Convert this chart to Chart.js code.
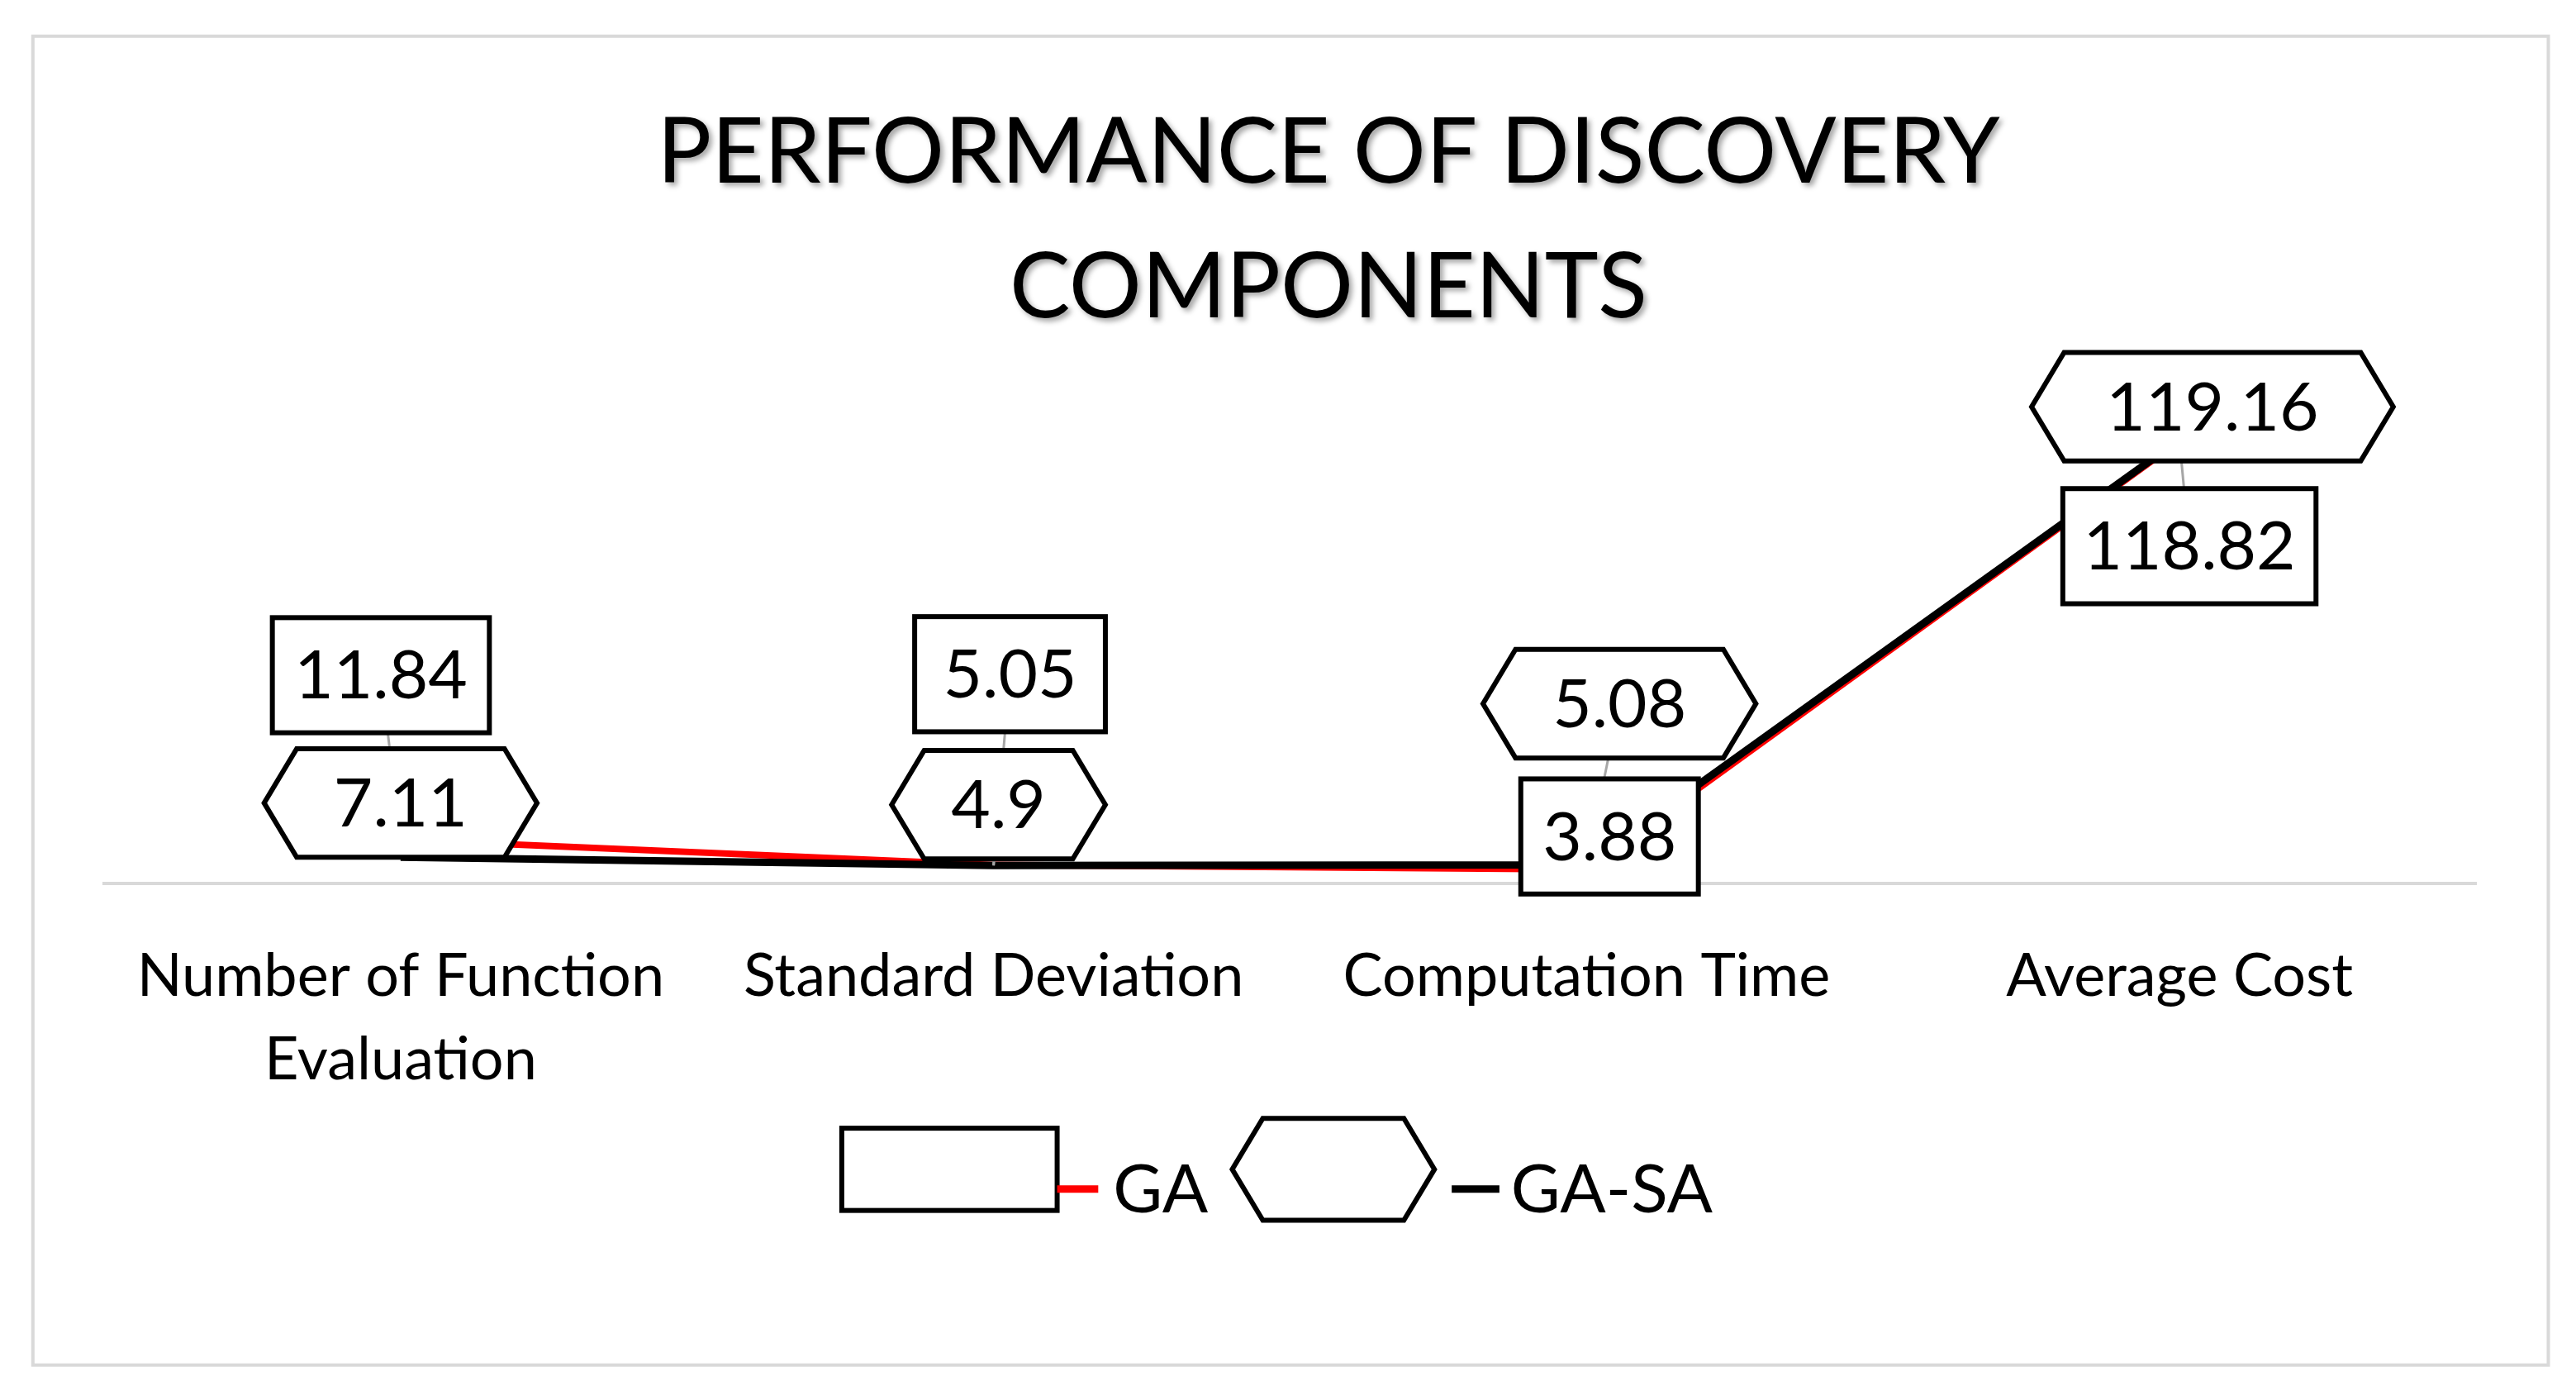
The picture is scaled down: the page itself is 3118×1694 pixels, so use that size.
<!DOCTYPE html>
<html><head><meta charset="utf-8">
<script src="https://cdn.jsdelivr.net/npm/chart.js@4"></script>
<style>html,body{margin:0;padding:0;background:#fff}#c{display:block}</style>
</head><body>
<canvas id="c" width="3118" height="1694"></canvas>
<script>
const categories = [["Number of Function","Evaluation"],"Standard Deviation","Computation Time","Average Cost"];
const gaValues = [11.84, 5.05, 3.88, 118.82];
const gasaValues = [7.11, 4.9, 5.08, 119.16];
const S = 1.99;
const gaLab = [[-12,-100,132],[10,-116,116],[14,-20,108],[6,64,154]];
const gasaLab = [[0,-33,166],[3,-37,130],[20,-98,166],[20,-20,220]];
const FONT = 'Lato, "Open Sans", sans-serif';

function hexPath(ctx,cx,cy,w,h){
  const k=h*0.3;
  ctx.beginPath();
  ctx.moveTo(cx-w/2,cy);ctx.lineTo(cx-w/2+k,cy-h/2);ctx.lineTo(cx+w/2-k,cy-h/2);
  ctx.lineTo(cx+w/2,cy);ctx.lineTo(cx+w/2-k,cy+h/2);ctx.lineTo(cx-w/2+k,cy+h/2);ctx.closePath();
}
const deco = {
  id:'deco',
  beforeDraw(chart){
    const ctx=chart.ctx;ctx.save();
    ctx.fillStyle='#fff';ctx.fillRect(0,0,chart.width,chart.height);
    ctx.strokeStyle='#d9d9d9';ctx.lineWidth=4;ctx.strokeRect(20*S,22*S,1530*S,808*S);
    ctx.font='110px '+FONT;ctx.textAlign='center';ctx.textBaseline='middle';
    ctx.shadowColor='rgba(0,0,0,0.35)';ctx.shadowOffsetX=4;ctx.shadowOffsetY=4;ctx.shadowBlur=6;
    ctx.fillStyle='#000';
    ctx.fillText('PERFORMANCE OF DISCOVERY',808*S,93*S);
    ctx.fillText('COMPONENTS',808*S,175*S);
    ctx.restore();
  },
  afterDatasetsDraw(chart){
    const ctx=chart.ctx;ctx.save();
    ctx.font='82px '+FONT;ctx.textAlign='center';ctx.textBaseline='middle';
    const sets=[[0,gaLab,gaValues,false],[1,gasaLab,gasaValues,true]];
    sets.forEach(([di,lab])=>{
      chart.getDatasetMeta(di).data.forEach((p,i)=>{
        const cx=p.x+lab[i][0]*S, cy=p.y+lab[i][1]*S;
        ctx.strokeStyle='#a6a6a6';ctx.lineWidth=3;
        ctx.beginPath();ctx.moveTo(cx,cy);ctx.lineTo(p.x,p.y);ctx.stroke();
      });
    });
    sets.forEach(([di,lab,vals,hex])=>{
      chart.getDatasetMeta(di).data.forEach((p,i)=>{
        const cx=p.x+lab[i][0]*S, cy=p.y+lab[i][1]*S, w=lab[i][2]*S, h=(hex?66:70)*S;
        ctx.lineWidth=6;ctx.strokeStyle='#000';ctx.fillStyle='#fff';
        if(hex){hexPath(ctx,cx,cy,w,h);ctx.fill();ctx.stroke();}
        else{ctx.fillRect(cx-w/2,cy-h/2,w,h);ctx.strokeRect(cx-w/2,cy-h/2,w,h);}
        ctx.fillStyle='#000';ctx.fillText(String(vals[i]),cx,cy+2);
      });
    });
    ctx.lineWidth=6;ctx.strokeStyle='#000';
    ctx.strokeRect(512*S,686*S,131*S,50*S);
    ctx.strokeStyle='#ff0000';ctx.lineWidth=9;ctx.beginPath();ctx.moveTo(643*S,723*S);ctx.lineTo(668*S,723*S);ctx.stroke();
    hexPath(ctx,811*S,711*S,123*S,62*S);ctx.strokeStyle='#000';ctx.lineWidth=6;ctx.stroke();
    ctx.lineWidth=9;ctx.beginPath();ctx.moveTo(883*S,723*S);ctx.lineTo(912*S,723*S);ctx.stroke();
    ctx.fillStyle='#000';ctx.textAlign='left';
    ctx.fillText('GA',677*S,724*S);ctx.fillText('GA-SA',919*S,724*S);
    ctx.restore();
  }
};
new Chart(document.getElementById('c'),{
  type:'line',
  data:{labels:categories,datasets:[
    {label:'GA',data:gaValues,borderColor:'#ff0000',borderWidth:8,pointRadius:0,tension:0,order:2},
    {label:'GA-SA',data:gasaValues,borderColor:'#000000',borderWidth:9,pointRadius:0,tension:0,order:1}
  ]},
  options:{responsive:false,animation:false,devicePixelRatio:1,
    layout:{padding:{left:126,right:121,top:438,bottom:299}},
    plugins:{legend:{display:false},title:{display:false},tooltip:{enabled:false}},
    scales:{
      y:{display:false,min:0,max:140},
      x:{offset:true,grid:{display:false,drawTicks:false},border:{color:'#d9d9d9',width:4},
        ticks:{color:'#000',font:{size:72,family:FONT,lineHeight:1.4},padding:62,maxRotation:0,autoSkip:false}}
    }},
  plugins:[deco]
});
</script>
</body></html>
